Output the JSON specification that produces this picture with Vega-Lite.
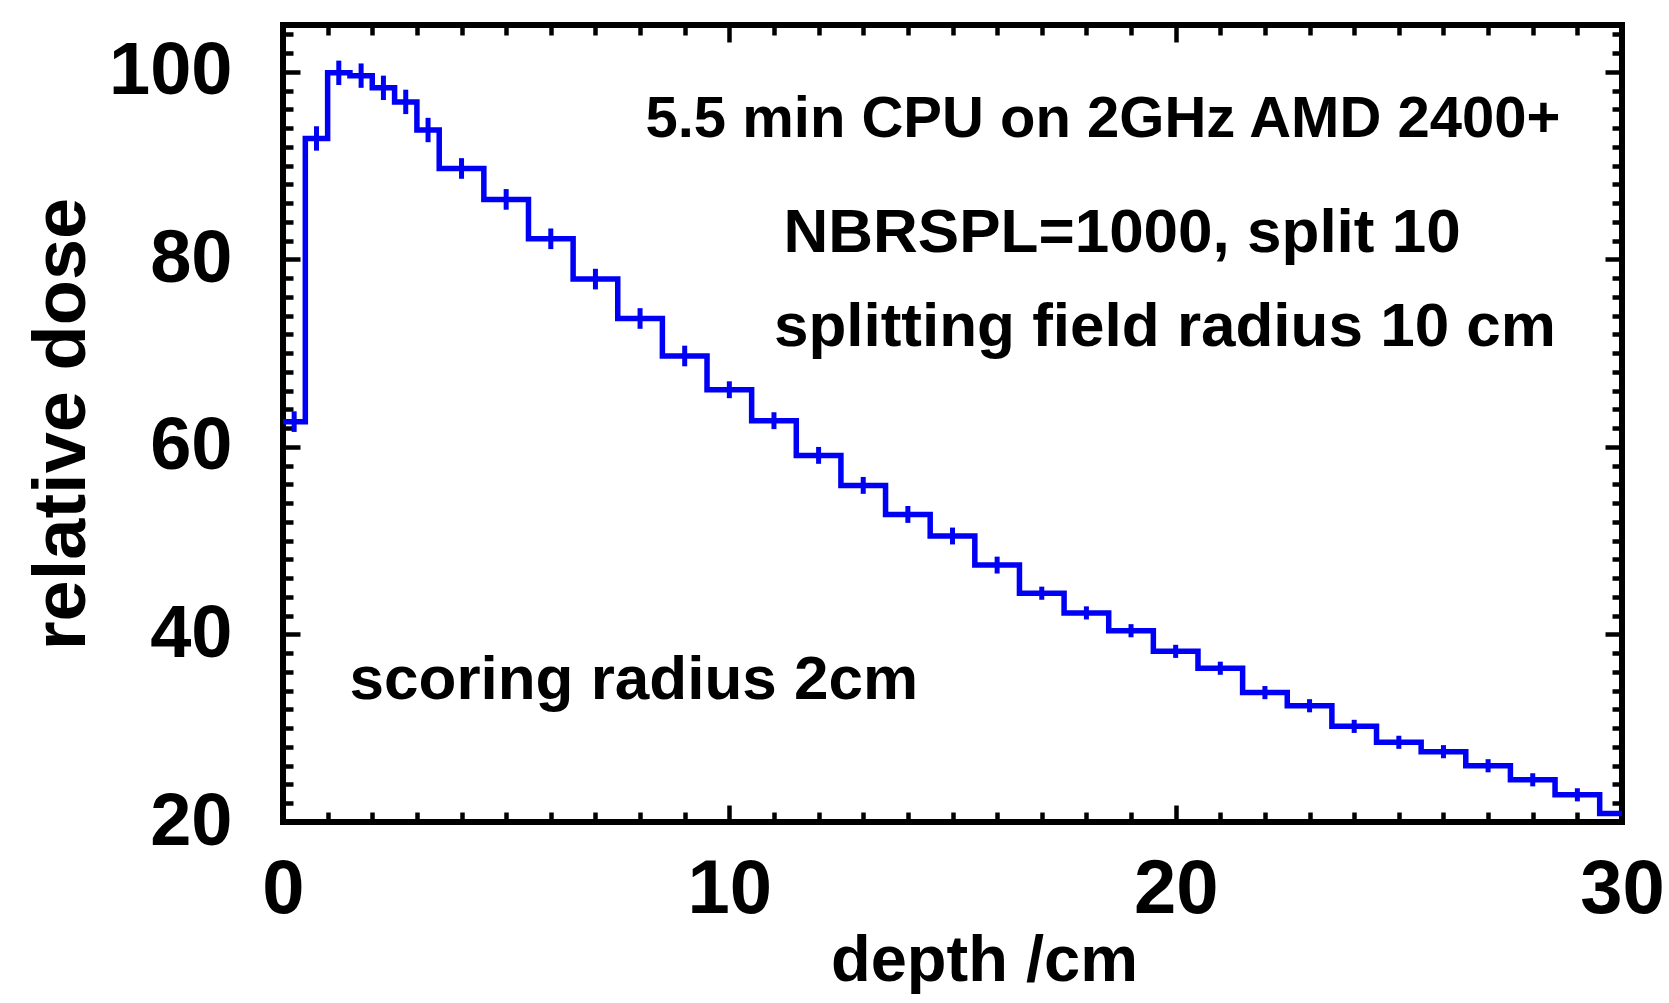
{
  "$schema": "https://vega.github.io/schema/vega-lite/v6.json",
  "width": 1339,
  "height": 797,
  "autosize": {"type": "none"},
  "padding": {"left": 283, "top": 25, "right": 47, "bottom": 181},
  "background": "white",
  "config": {
    "view": {"stroke": "#000000", "strokeWidth": 6},
    "font": "Liberation Sans",
    "axis": {
      "grid": false,
      "labelFont": "Liberation Sans",
      "titleFont": "Liberation Sans",
      "labelFontWeight": "bold",
      "titleFontWeight": "bold",
      "labelColor": "#000000",
      "titleColor": "#000000",
      "tickColor": "#000000",
      "labelFlush": false,
      "labelOverlap": false
    }
  },
  "data": {
    "values": [
      {"x0": 0, "x1": 0.5, "xc": 0.25, "v": 62.7, "lo": 61.6, "hi": 63.8},
      {"x0": 0.5, "x1": 1, "xc": 0.75, "v": 92.9, "lo": 91.6, "hi": 94.2},
      {"x0": 1, "x1": 1.5, "xc": 1.25, "v": 99.9, "lo": 98.6, "hi": 101.2},
      {"x0": 1.5, "x1": 2, "xc": 1.75, "v": 99.6, "lo": 98.3, "hi": 100.9},
      {"x0": 2, "x1": 2.5, "xc": 2.25, "v": 98.3, "lo": 97.0, "hi": 99.6},
      {"x0": 2.5, "x1": 3, "xc": 2.75, "v": 96.8, "lo": 95.5, "hi": 98.1},
      {"x0": 3, "x1": 3.5, "xc": 3.25, "v": 93.8, "lo": 92.5, "hi": 95.1},
      {"x0": 3.5, "x1": 4.5, "xc": 4, "v": 89.7, "lo": 88.6, "hi": 90.8},
      {"x0": 4.5, "x1": 5.5, "xc": 5, "v": 86.4, "lo": 85.3, "hi": 87.5},
      {"x0": 5.5, "x1": 6.5, "xc": 6, "v": 82.2, "lo": 81.1, "hi": 83.3},
      {"x0": 6.5, "x1": 7.5, "xc": 7, "v": 77.9, "lo": 76.8, "hi": 79.0},
      {"x0": 7.5, "x1": 8.5, "xc": 8, "v": 73.7, "lo": 72.6, "hi": 74.8},
      {"x0": 8.5, "x1": 9.5, "xc": 9, "v": 69.7, "lo": 68.6, "hi": 70.8},
      {"x0": 9.5, "x1": 10.5, "xc": 10, "v": 66.1, "lo": 65.2, "hi": 67.0},
      {"x0": 10.5, "x1": 11.5, "xc": 11, "v": 62.8, "lo": 61.9, "hi": 63.7},
      {"x0": 11.5, "x1": 12.5, "xc": 12, "v": 59.1, "lo": 58.2, "hi": 60.0},
      {"x0": 12.5, "x1": 13.5, "xc": 13, "v": 55.9, "lo": 55.0, "hi": 56.8},
      {"x0": 13.5, "x1": 14.5, "xc": 14, "v": 52.8, "lo": 51.9, "hi": 53.7},
      {"x0": 14.5, "x1": 15.5, "xc": 15, "v": 50.5, "lo": 49.6, "hi": 51.4},
      {"x0": 15.5, "x1": 16.5, "xc": 16, "v": 47.4, "lo": 46.5, "hi": 48.3},
      {"x0": 16.5, "x1": 17.5, "xc": 17, "v": 44.4, "lo": 43.7, "hi": 45.1},
      {"x0": 17.5, "x1": 18.5, "xc": 18, "v": 42.3, "lo": 41.6, "hi": 43.0},
      {"x0": 18.5, "x1": 19.5, "xc": 19, "v": 40.4, "lo": 39.7, "hi": 41.1},
      {"x0": 19.5, "x1": 20.5, "xc": 20, "v": 38.2, "lo": 37.5, "hi": 38.9},
      {"x0": 20.5, "x1": 21.5, "xc": 21, "v": 36.4, "lo": 35.7, "hi": 37.1},
      {"x0": 21.5, "x1": 22.5, "xc": 22, "v": 33.8, "lo": 33.1, "hi": 34.5},
      {"x0": 22.5, "x1": 23.5, "xc": 23, "v": 32.4, "lo": 31.7, "hi": 33.1},
      {"x0": 23.5, "x1": 24.5, "xc": 24, "v": 30.2, "lo": 29.5, "hi": 30.9},
      {"x0": 24.5, "x1": 25.5, "xc": 25, "v": 28.5, "lo": 27.8, "hi": 29.2},
      {"x0": 25.5, "x1": 26.5, "xc": 26, "v": 27.5, "lo": 26.8, "hi": 28.2},
      {"x0": 26.5, "x1": 27.5, "xc": 27, "v": 26.0, "lo": 25.3, "hi": 26.7},
      {"x0": 27.5, "x1": 28.5, "xc": 28, "v": 24.5, "lo": 23.8, "hi": 25.2},
      {"x0": 28.5, "x1": 29.5, "xc": 29, "v": 22.9, "lo": 22.2, "hi": 23.6},
      {"x0": 29.5, "x1": 30, "v": 20.9},
      {"x0": 30, "v": 20.9}
    ]
  },
  "layer": [
    {
      "mark": {"type": "line", "interpolate": "step-after", "color": "#0000f5", "strokeWidth": 5.5},
      "encoding": {
        "x": {
          "field": "x0", "type": "quantitative",
          "scale": {"domain": [0, 30], "nice": false, "zero": false},
          "axis": {
            "orient": "bottom", "values": [0, 10, 20, 30], "ticks": false, "domain": false,
            "labelFontSize": 76, "labelPadding": 30,
            "title": "depth /cm", "titleFontSize": 65, "titlePadding": 2, "titleX": 701
          }
        },
        "y": {
          "field": "v", "type": "quantitative",
          "scale": {"domain": [20, 105], "nice": false, "zero": false},
          "axis": {
            "orient": "left", "values": [20, 40, 60, 80, 100], "ticks": false, "domain": false,
            "labelFontSize": 74, "labelPadding": 51,
            "title": "relative dose", "titleFontSize": 74, "titlePadding": 8
          }
        }
      }
    },
    {
      "mark": {"type": "rule", "color": "#0000f5", "strokeWidth": 5},
      "encoding": {
        "x": {
          "field": "xc", "type": "quantitative",
          "scale": {"domain": [0, 30], "nice": false, "zero": false},
          "axis": {
            "orient": "bottom",
            "values": [0,1,2,3,4,5,6,7,8,9,10,11,12,13,14,15,16,17,18,19,20,21,22,23,24,25,26,27,28,29,30],
            "labels": false, "domain": false, "title": null, "tickWidth": 4.5,
            "tickSize": {"condition": {"test": "datum.value % 10 === 0", "value": -17}, "value": -10}
          }
        },
        "y": {
          "field": "lo", "type": "quantitative",
          "scale": {"domain": [20, 105], "nice": false, "zero": false},
          "axis": {
            "orient": "left",
            "values": [20,22,24,26,28,30,32,34,36,38,40,42,44,46,48,50,52,54,56,58,60,62,64,66,68,70,72,74,76,78,80,82,84,86,88,90,92,94,96,98,100,102,104],
            "labels": false, "domain": false, "title": null, "tickWidth": 4.5,
            "tickSize": {"condition": {"test": "datum.value % 20 === 0", "value": -17}, "value": -10}
          }
        },
        "y2": {"field": "hi"}
      }
    },
    {
      "data": {
        "values": [
          {"label": "5.5 min CPU on 2GHz AMD 2400+", "tx": 18.37, "ty": 94.9}
        ]
      },
      "mark": {"type": "text", "font": "Liberation Sans", "fontWeight": "bold", "fontSize": 58, "color": "#000000", "align": "center", "baseline": "middle"},
      "encoding": {
        "x": {
          "field": "tx", "type": "quantitative",
          "scale": {"domain": [0, 30], "nice": false, "zero": false},
          "axis": {
            "orient": "top",
            "values": [0,1,2,3,4,5,6,7,8,9,10,11,12,13,14,15,16,17,18,19,20,21,22,23,24,25,26,27,28,29,30],
            "labels": false, "domain": false, "title": null, "tickWidth": 4.5,
            "tickSize": {"condition": {"test": "datum.value % 10 === 0", "value": -17}, "value": -10}
          }
        },
        "y": {
          "field": "ty", "type": "quantitative",
          "scale": {"domain": [20, 105], "nice": false, "zero": false},
          "axis": {
            "orient": "right",
            "values": [20,22,24,26,28,30,32,34,36,38,40,42,44,46,48,50,52,54,56,58,60,62,64,66,68,70,72,74,76,78,80,82,84,86,88,90,92,94,96,98,100,102,104],
            "labels": false, "domain": false, "title": null, "tickWidth": 4.5,
            "tickSize": {"condition": {"test": "datum.value % 20 === 0", "value": -17}, "value": -10}
          }
        },
        "text": {"field": "label"}
      }
    },
    {
      "data": {
        "values": [
          {"label": "NBRSPL=1000, split 10", "tx": 18.8, "ty": 82.8},
          {"label": "splitting field radius 10 cm", "tx": 19.76, "ty": 72.8},
          {"label": "scoring radius 2cm", "tx": 7.86, "ty": 35.1}
        ]
      },
      "mark": {"type": "text", "font": "Liberation Sans", "fontWeight": "bold", "fontSize": 62, "color": "#000000", "align": "center", "baseline": "middle"},
      "encoding": {
        "x": {"field": "tx", "type": "quantitative", "scale": {"domain": [0, 30], "nice": false, "zero": false}, "axis": null},
        "y": {"field": "ty", "type": "quantitative", "scale": {"domain": [20, 105], "nice": false, "zero": false}, "axis": null},
        "text": {"field": "label"}
      }
    }
  ],
  "resolve": {"axis": {"x": "independent", "y": "independent"}}
}
